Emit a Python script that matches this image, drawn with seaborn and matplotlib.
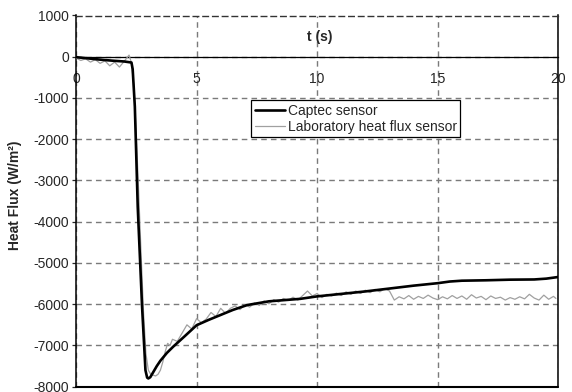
import matplotlib
matplotlib.use("Agg")
import matplotlib.pyplot as plt
import seaborn as sns
import pandas as pd

# ---- data ----
t_captec = [0.0, 0.5, 1.0, 1.5, 2.0, 2.3, 2.35, 2.44, 2.56, 2.74, 2.88, 2.95, 3.0,
            3.08, 3.2, 3.35, 3.5, 3.77, 4.03, 4.5, 5.0, 5.5, 6.0, 6.5, 7.1, 8.0,
            9.3, 10.0, 11.0, 12.0, 13.0, 14.0, 15.0, 15.5, 16.0, 17.0, 18.0, 19.0,
            19.5, 20.0]
q_captec = [-10, -40, -70, -95, -115, -140, -300, -1210, -3640, -6060, -7600, -7780, -7800,
            -7770, -7650, -7500, -7370, -7180, -7030, -6780, -6510, -6380, -6260, -6140, -6020, -5930,
            -5870, -5810, -5750, -5690, -5620, -5550, -5490, -5450, -5430, -5420, -5405, -5400,
            -5380, -5340]

t_lab = [0.0, 0.2, 0.4, 0.6, 0.8, 1.0, 1.2, 1.4, 1.6, 1.8, 2.0, 2.2, 2.3, 2.4, 2.5,
         2.6, 2.7, 2.8, 2.9, 3.0, 3.1, 3.2, 3.3, 3.4, 3.5, 3.6, 3.7, 3.8, 3.9, 4.0,
         4.2, 4.4, 4.6, 4.8, 5.0, 5.2, 5.4, 5.6, 5.8, 6.0, 6.2, 6.4, 6.6, 6.8, 7.0,
         7.2, 7.4, 7.6, 7.8, 8.0, 8.2, 8.4, 8.6, 8.8, 9.0, 9.2, 9.4, 9.6, 9.8, 10.0,
         10.2, 10.4, 10.6, 10.8, 11.0, 11.2, 11.4, 11.6, 11.8, 12.0, 12.2, 12.4, 12.6,
         12.8, 13.0, 13.2, 13.4, 13.6, 13.8, 14.0, 14.2, 14.4, 14.6, 14.8, 15.0, 15.2,
         15.4, 15.6, 15.8, 16.0, 16.2, 16.4, 16.6, 16.8, 17.0, 17.2, 17.4, 17.6, 17.8,
         18.0, 18.2, 18.4, 18.6, 18.8, 19.0, 19.2, 19.4, 19.6, 19.8, 19.9]
q_lab = [-30, -90, -50, -130, -70, -160, -100, -220, -130, -250, -110, 40, -150, -700, -1900,
         -3300, -4800, -6200, -7200, -7600, -7700, -7720, -7740, -7700, -7600, -7400, -7150, -6950, -7000, -6850,
         -6900, -6700, -6500, -6600, -6350, -6450, -6360, -6200, -6300, -6100, -6220, -6100, -6040, -6130, -6010,
         -6070, -5970, -6030, -5920, -5990, -5890, -5950, -5860, -5910, -5830, -5900, -5790, -5680, -5800, -5740,
         -5840, -5760, -5800, -5730, -5790, -5700, -5760, -5680, -5740, -5660, -5720, -5640, -5700,
         -5620, -5680, -5900, -5820, -5870, -5790, -5880, -5810, -5860, -5780, -5850, -5890, -5820,
         -5870, -5790, -5860, -5800, -5880, -5770, -5850, -5810, -5890, -5800, -5860, -5830, -5900,
         -5840, -5880, -5820, -5870, -5760, -5850, -5900, -5780, -5880, -5810, -5860]

x_ticks = [0, 5, 10, 15, 20]
y_ticks = [-8000, -7000, -6000, -5000, -4000, -3000, -2000, -1000, 0, 1000]
label_captec = "Captec sensor"
label_lab = "Laboratory heat flux sensor"

df_c = pd.DataFrame({"t": t_captec, "q": q_captec})
df_l = pd.DataFrame({"t": t_lab, "q": q_lab})

sns.set_style("white")
plt.rcParams["font.family"] = ["Liberation Sans", "DejaVu Sans"]
plt.rcParams["font.size"] = 10
plt.rcParams["axes.unicode_minus"] = False

fig = plt.figure(figsize=(5.72, 3.92), dpi=100)
ax = fig.add_axes([76 / 572, 1 - 386.7 / 392, (558.3 - 76) / 572, (386.7 - 15.5) / 392])

sns.lineplot(data=df_l, x="t", y="q", ax=ax, color="#a0a0a0", linewidth=0.9,
             label=label_lab, zorder=3)
sns.lineplot(data=df_c, x="t", y="q", ax=ax, color="black", linewidth=1.9,
             label=label_captec, zorder=4)

ax.set_xlim(0, 20)
ax.set_ylim(-8000, 1000)
ax.set_xticks(x_ticks)
ax.set_yticks(y_ticks)
ax.set_xlabel("")
ax.set_ylabel("Heat Flux (W/m²)", fontweight="bold", fontsize=10)
ax.yaxis.set_label_coords(-0.112, 0.515)

dash = (0, (4, 3))
ax.grid(True, color="#7a7a7a", linestyle=dash, linewidth=1.0)
ax.set_axisbelow(True)

for s in ["left", "right"]:
    ax.spines[s].set_color("black")
    ax.spines[s].set_linewidth(1.1)
ax.spines["top"].set_color("#333333")
ax.spines["top"].set_linestyle(dash)
ax.spines["top"].set_linewidth(1.0)
ax.spines["bottom"].set_position(("data", 0))
ax.spines["bottom"].set_color("black")
ax.spines["bottom"].set_linewidth(0.9)
ax.axhline(-8000, color="black", linewidth=1.5, clip_on=False, zorder=5)

ax.tick_params(axis="x", direction="inout", length=6, width=0.9, pad=8, labelsize=10)
ax.tick_params(axis="y", direction="out", length=3, width=0.9, pad=2, labelsize=10, left=True)

ax.text(0.506, 0.942, "t (s)", transform=ax.transAxes, ha="center", va="center",
        fontweight="bold", fontsize=10)

handles, labels = ax.get_legend_handles_labels()
order = [labels.index(label_captec), labels.index(label_lab)]
leg = ax.legend([handles[i] for i in order], [labels[i] for i in order],
                loc="upper left", bbox_to_anchor=(0.363, 0.772), borderaxespad=0,
                frameon=True, fancybox=False, edgecolor="black", framealpha=1,
                handlelength=2.2, handletextpad=0.2, borderpad=0.25, labelspacing=0.15,
                fontsize=10)
leg.get_frame().set_linewidth(0.9)

fig.savefig("out.png", dpi=100)
